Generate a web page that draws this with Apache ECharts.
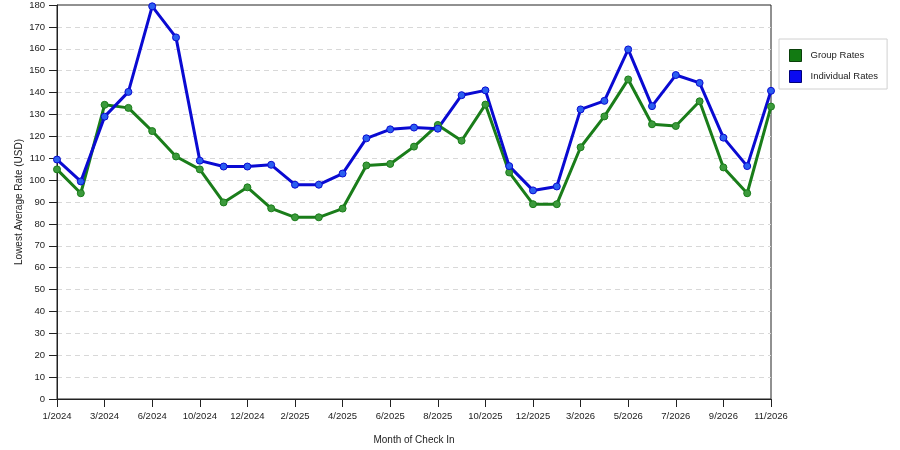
<!DOCTYPE html>
<html>
<head>
<meta charset="utf-8">
<script src="https://cdn.jsdelivr.net/npm/echarts@6/dist/echarts.min.js"></script>
<style>
  html, body { margin: 0; padding: 0; background: #fff; }
  #chart { width: 900px; height: 450px; }
</style>
</head>
<body>
<div id="chart"></div>
<script>
// months of check-in (only every second one gets a label)
const months = [
  '1/2024', '2/2024', '3/2024', '5/2024', '6/2024', '8/2024', '10/2024', '11/2024',
  '12/2024', '1/2025', '2/2025', '3/2025', '4/2025', '5/2025', '6/2025', '7/2025',
  '8/2025', '9/2025', '10/2025', '11/2025', '12/2025', '2/2026', '3/2026', '4/2026',
  '5/2026', '6/2026', '7/2026', '8/2026', '9/2026', '10/2026', '11/2026'
];

const groupRates = [
  104.9, 94, 134.4, 133, 122.4, 110.8, 104.9, 89.8,
  96.7, 87.1, 83, 83, 87, 106.7, 107.4, 115.3,
  125.2, 118, 134.5, 103.5, 89, 89, 115, 129.1,
  146, 125.5, 124.7, 136, 105.8, 94, 133.6
];

const individualRates = [
  109.4, 99.4, 129, 140.3, 179.4, 165.2, 108.9, 106.2,
  106.2, 107, 97.9, 97.9, 103, 119.1, 123.2, 124,
  123.5, 138.8, 141, 106.4, 95.3, 97.1, 132.3, 136.2,
  159.7, 133.8, 148, 144.4, 119.4, 106.4, 140.8
];

const font = 'Liberation Sans, Arial, sans-serif';

const chart = echarts.init(document.getElementById('chart'), null, { renderer: 'canvas' });

function lineSeries(name, data, color, dotColor) {
  return {
    name: name,
    type: 'line',
    data: data,
    symbol: 'circle',
    symbolSize: 7,
    lineStyle: { color: color, width: 3 },
    itemStyle: { color: dotColor, borderColor: color, borderWidth: 1 },
    emphasis: { disabled: true },
    animation: false
  };
}

chart.setOption({
  backgroundColor: '#fff',
  grid: {
    left: 57, right: 129, top: 5, bottom: 49,
    show: true, borderColor: '#222', borderWidth: 1
  },
  legend: {
    left: 779, top: 39,
    orient: 'vertical',
    icon: 'rect',
    itemWidth: 12, itemHeight: 12, itemGap: 8,
    padding: [10, 9, 6, 10],
    borderColor: '#d0d0d0', borderWidth: 1,
    textStyle: { fontFamily: font, fontSize: 9.5, color: '#222', padding: [0, 0, 0, 4] },
    data: [
      { name: 'Group Rates', itemStyle: { color: '#127a12', borderColor: '#0a3f0a', borderWidth: 1 } },
      { name: 'Individual Rates', itemStyle: { color: '#0a0af0', borderColor: '#00007a', borderWidth: 1 } }
    ]
  },
  xAxis: {
    type: 'category',
    data: months,
    boundaryGap: false,
    name: 'Month of Check In',
    nameLocation: 'middle',
    nameGap: 36,
    nameMoveOverlap: false,
    nameTextStyle: { fontFamily: font, fontSize: 10, color: '#222' },
    axisLine: { lineStyle: { color: '#222' } },
    axisTick: { length: 8, interval: 1, lineStyle: { color: '#222' } },
    axisLabel: { interval: 1, margin: 12, fontFamily: font, fontSize: 9.5, color: '#222' },
    splitLine: { show: false }
  },
  yAxis: {
    type: 'value',
    min: 0, max: 180, interval: 10,
    name: 'Lowest Average Rate (USD)',
    nameLocation: 'middle',
    nameGap: 33,
    nameMoveOverlap: false,
    nameTextStyle: { fontFamily: font, fontSize: 10, color: '#222' },
    axisLine: { show: true, lineStyle: { color: '#222' } },
    axisTick: { show: true, length: 8, lineStyle: { color: '#222' } },
    axisLabel: { margin: 12, fontFamily: font, fontSize: 9.5, color: '#222' },
    splitLine: {
      showMinLine: false, showMaxLine: false,
      lineStyle: { color: '#d8d8d8', type: [5, 4] }
    }
  },
  series: [
    lineSeries('Group Rates', groupRates, '#1a7d1a', '#3c9a3c'),
    lineSeries('Individual Rates', individualRates, '#0a0ad2', '#2a5ef0')
  ]
});

window.addEventListener('resize', () => chart.resize());
</script>
</body>
</html>
